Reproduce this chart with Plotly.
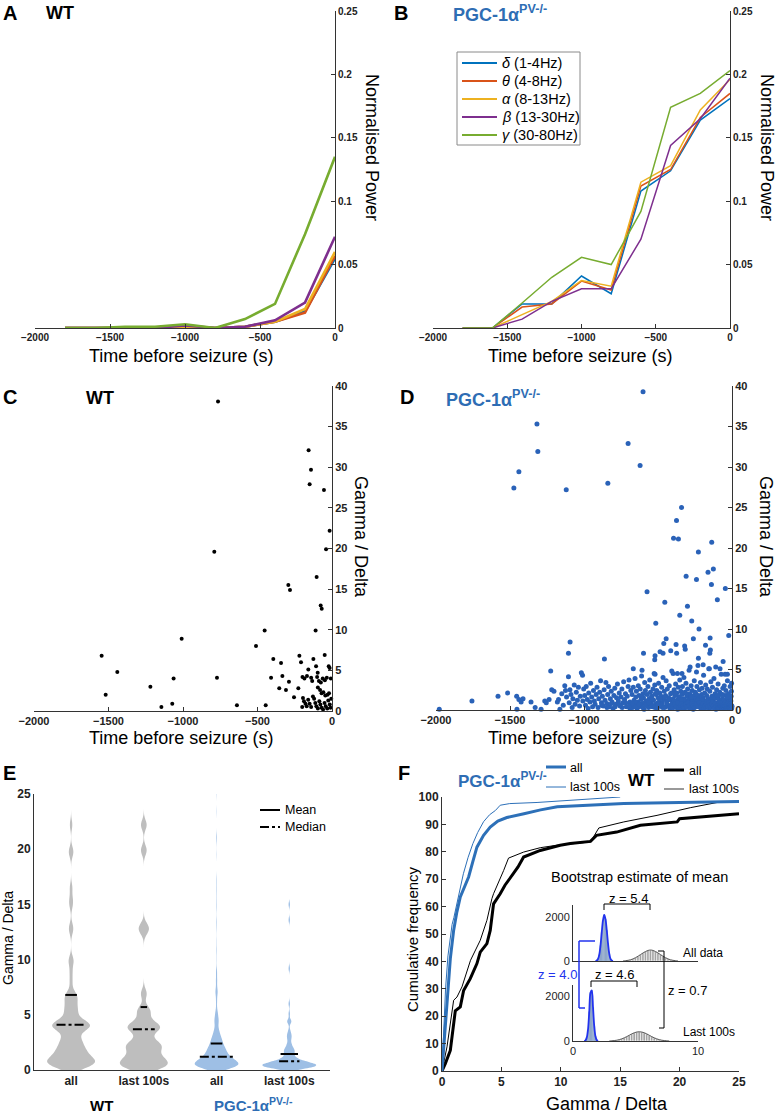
import plotly.graph_objects as go

W, H = 777, 1113
def PX(x): return x / W
def PY(y): return 1 - y / H

FONT = "Liberation Sans, Arial, sans-serif"
BLUE_T = "#2E6DB4"

# ---------------- data: panels A / B (normalised power) ----------------
t_bins = [-1800, -1600, -1400, -1200, -1000, -800, -600, -400, -200, 0]
band_names = ["<i>δ</i> (1-4Hz)", "<i>θ</i> (4-8Hz)", "<i>α</i> (8-13Hz)",
              "<i>β</i> (13-30Hz)", "<i>γ</i> (30-80Hz)"]
band_colors = ["#0072BD", "#D95319", "#EDB120", "#7E2F8E", "#77AC30"]

wt_delta = [0, 0, 0, 0, 0.001, 0, 0.001, 0.005, 0.013, 0.055]
wt_theta = [0, 0, 0, 0, 0.001, 0, 0.001, 0.005, 0.012, 0.057]
wt_alpha = [0, 0, 0, 0, 0.001, 0, 0.001, 0.005, 0.015, 0.060]
wt_beta = [0, 0, 0, 0, 0.002, 0, 0.001, 0.006, 0.020, 0.072]
wt_gamma = [0, 0, 0.001, 0.001, 0.003, 0, 0.007, 0.019, 0.074, 0.135]

ko_delta = [0, 0, 0.019, 0.019, 0.041, 0.027, 0.108, 0.124, 0.164, 0.181]
ko_theta = [0, 0, 0.0165, 0.019, 0.037, 0.030, 0.112, 0.125, 0.166, 0.185]
ko_alpha = [0, 0, 0.0105, 0.021, 0.0375, 0.033, 0.115, 0.128, 0.172, 0.196]
ko_beta = [0, 0, 0.007, 0.021, 0.031, 0.031, 0.070, 0.144, 0.165, 0.197]
ko_gamma = [0, 0, 0.0197, 0.040, 0.0557, 0.050, 0.092, 0.174, 0.185, 0.203]

# ---------------- data: panel C (WT gamma/delta) ----------------
wt_points = [
    (-765, 38.1), (-157, 32.1), (-141, 29.7), (-150, 27.9), (-54, 27.2), (-16, 22.2),
    (-40, 19.9), (-790, 19.6), (-103, 16.5), (-293, 15.5), (-282, 14.9), (-76, 13.0),
    (-69, 12.6), (-452, 9.9), (-110, 9.9), (-1009, 8.9), (-510, 8.0), (-1546, 6.8),
    (-49, 6.9), (-219, 6.8), (-394, 6.4), (-208, 6.0), (-125, 6.4), (-342, 5.9),
    (-22, 5.5), (-16, 5.3), (-1441, 4.8), (-107, 5.5), (-96, 4.7), (-159, 5.1),
    (-1063, 4.0), (-772, 4.1), (-409, 4.1), (-333, 4.3), (-198, 4.2), (-168, 4.3),
    (-185, 4.0), (-140, 4.1), (-133, 3.7), (-100, 4.2), (-88, 3.7), (-75, 3.5),
    (-62, 4.0), (-48, 3.8), (-35, 4.1), (-8, 4.0), (-1219, 3.0), (-354, 2.8),
    (-289, 3.6), (-309, 2.6), (-226, 2.8), (-95, 2.9), (-80, 2.6), (-70, 2.2),
    (-58, 2.3), (-45, 1.9), (-30, 2.0), (-20, 2.2), (-1519, 2.0), (-255, 1.7),
    (-1072, 0.9), (-1145, 0.5), (-638, 0.7), (-445, 0.7), (-195, 1.6), (-188, 1.2),
    (-178, 0.9), (-170, 0.6), (-160, 1.4), (-150, 0.9), (-140, 0.5), (-120, 1.5),
    (-112, 1.0), (-105, 0.6), (-95, 0.3), (-85, 1.2), (-78, 0.8), (-70, 0.4),
    (-60, 0.2), (-50, 1.0), (-42, 0.6), (-32, 0.3), (-25, 1.3), (-15, 0.8),
    (-10, 0.4), (-5, 1.5), (-200, 0.5), (-128, 1.8),
]

# ---------------- data: panel D (PGC-1a PV-/- gamma/delta) ----------------
ko_points_high = [
    (-601, 39.3), (-1318, 35.3), (-1312, 31.9), (-702, 32.9), (-621, 30.2), (-1440, 29.4),
    (-1474, 27.4), (-1120, 27.2), (-839, 28.0), (-341, 25.0), (-375, 23.4), (-395, 21.2),
    (-362, 21.1), (-137, 20.7), (-227, 19.5), (-162, 17.0), (-126, 17.4), (-310, 16.5),
    (-240, 16.1), (-139, 15.5), (-45, 15.0), (-574, 14.6), (-99, 13.6), (-454, 13.3),
    (-301, 12.8), (-353, 11.7), (-272, 11.0), (-515, 10.7), (-223, 10.0), (-22, 9.2),
    (-445, 8.8), (-1094, 8.4), (-461, 8.2), (-378, 8.1), (-148, 8.9), (-261, 8.8),
    (-320, 7.9), (-316, 7.5), (-179, 8.0), (-146, 7.4), (-150, 7.0), (-1105, 7.0),
    (-598, 7.0), (-486, 7.2), (-466, 7.0), (-414, 7.3), (-374, 7.0), (-862, 6.3),
    (-520, 6.7), (-522, 6.2), (-227, 6.4), (-667, 5.1), (-608, 4.9), (-520, 4.4),
    (-398, 4.5), (-369, 4.5), (-338, 4.5), (-153, 5.1), (-81, 5.1), (-47, 4.4),
    (-31, 4.4), (-283, 5.3), (-195, 5.6), (-110, 5.3), (-240, 4.7), (-60, 6.0),
]
ko_points_far = [
    (-1978, 0.1), (-1757, 1.1), (-1581, 1.7), (-1516, 2.1), (-1455, 1.7), (-1440, 1.3),
    (-1425, 1.0), (-1412, 1.4), (-1453, 0.1), (-1358, 1.0), (-1330, 0.3),
    (-1290, 0.1), (-1265, 1.1), (-1255, 0.9), (-1236, 1.3), (-1225, 4.8), (-1218, 2.5),
    (-1203, 2.3), (-1180, 1.0), (-1172, 1.3), (-1163, 0.1), (-1150, 2.0), (-1140, 0.6),
    (-1130, 3.0), (-1125, 2.4), (-1118, 1.6), (-1105, 4.1), (-1100, 0.9), (-1095, 2.5),
    (-1088, 1.9), (-1080, 0.3), (-1075, 1.4), (-1066, 3.1), (-1060, 0.7), (-1052, 2.2),
    (-1045, 1.2), (-1038, 2.8), (-1030, 0.5), (-1025, 1.7), (-1018, 4.6), (-1010, 4.3),
    (-1008, 1.1), (-1002, 2.6),
]
ko_points_mid = [
    (-995, 1.8), (-990, 0.6), (-985, 2.9), (-978, 1.3), (-972, 0.2), (-968, 2.1),
    (-960, 1.0), (-955, 3.3), (-948, 1.6), (-942, 0.4), (-936, 2.4), (-930, 1.1),
    (-925, 0.7), (-918, 1.9), (-912, 2.8), (-905, 0.3), (-900, 1.4), (-894, 2.2),
    (-888, 3.6), (-882, 0.9), (-876, 1.7), (-870, 0.5), (-864, 2.5), (-858, 1.2),
    (-852, 3.4), (-846, 0.8), (-840, 1.9), (-834, 2.9), (-828, 0.4), (-822, 1.4),
    (-816, 2.3), (-810, 1.0), (-804, 0.2), (-798, 1.8), (-792, 2.7), (-786, 0.7),
    (-780, 1.5), (-774, 3.2), (-768, 1.1), (-762, 2.1), (-756, 0.5), (-750, 1.6),
    (-744, 2.6), (-738, 0.9), (-732, 3.5), (-726, 1.3), (-720, 2.0), (-714, 0.4),
    (-708, 1.7), (-702, 2.9), (-696, 3.7), (-690, 1.0), (-684, 2.4), (-678, 0.6),
]
ko_points_near = [
    (-675, 1.9), (-671, 0.3), (-667, 2.8), (-662, 1.2), (-658, 0.7), (-655, 3.9),
    (-650, 1.6), (-646, 2.3), (-641, 0.2), (-637, 1.0), (-633, 3.0), (-628, 1.8),
    (-624, 0.5), (-620, 2.6), (-615, 1.3), (-611, 4.2), (-607, 0.8), (-602, 2.0),
    (-598, 1.5), (-594, 0.1), (-590, 3.4), (-585, 2.4), (-581, 1.1), (-577, 0.6),
    (-573, 1.9), (-568, 2.9), (-564, 0.3), (-560, 1.4), (-556, 3.7), (-551, 2.2),
    (-547, 0.9), (-543, 1.7), (-539, 0.4), (-534, 2.6), (-530, 1.2), (-526, 4.5),
    (-522, 3.1), (-517, 0.7), (-513, 1.9), (-509, 2.4), (-505, 0.2), (-500, 1.5),
    (-496, 3.3), (-492, 1.0), (-488, 2.1), (-483, 0.5), (-479, 1.7), (-475, 2.8),
    (-471, 0.9), (-466, 4.0), (-462, 1.3), (-458, 2.3), (-454, 0.3), (-449, 1.8),
    (-445, 3.6), (-441, 1.1), (-437, 2.6), (-432, 0.6), (-428, 1.5), (-424, 3.0),
    (-420, 0.2), (-415, 2.0), (-411, 1.2), (-407, 4.8), (-403, 0.8),
    (-690, 0.2), (-655, 0.9), (-630, 0.4), (-612, 1.6), (-588, 0.9), (-570, 1.1),
    (-552, 0.6), (-535, 1.3), (-518, 2.0), (-502, 0.9), (-486, 1.4), (-470, 0.3),
    (-455, 1.6), (-438, 0.5), (-422, 1.3), (-408, 2.1),
]
ko_points_last = [
    (-398, 1.4), (-395, 0.3), (-391, 2.5), (-388, 0.9), (-384, 1.8), (-381, 3.2),
    (-377, 0.5), (-374, 2.1), (-370, 1.2), (-367, 0.1), (-363, 2.8), (-360, 1.6),
    (-356, 0.7), (-353, 3.7), (-349, 1.0), (-346, 2.3), (-342, 0.4), (-339, 1.9),
    (-335, 2.9), (-332, 0.8), (-328, 1.4), (-325, 4.0), (-321, 0.2), (-318, 2.2),
    (-314, 1.1), (-311, 3.3), (-307, 0.6), (-304, 1.7), (-300, 2.6), (-297, 0.3),
    (-293, 1.3), (-290, 4.9), (-286, 2.0), (-283, 0.9), (-279, 1.5), (-276, 3.0),
    (-272, 0.5), (-269, 2.4), (-265, 1.2), (-262, 0.1), (-258, 1.8), (-255, 3.6),
    (-251, 0.8), (-248, 2.2), (-244, 1.4), (-241, 0.4), (-237, 2.9), (-234, 1.0),
    (-230, 5.5), (-227, 1.7), (-223, 0.6), (-220, 2.5), (-216, 1.3), (-213, 3.4),
    (-209, 0.2), (-206, 1.9), (-202, 2.7), (-199, 0.9), (-195, 1.5), (-192, 4.3),
    (-188, 0.5), (-185, 2.1), (-181, 1.1), (-178, 3.1), (-174, 0.3), (-171, 1.8),
    (-167, 2.6), (-164, 0.7), (-160, 1.4), (-157, 5.1), (-153, 0.2), (-150, 2.3),
    (-146, 1.0), (-143, 3.5), (-139, 0.6), (-136, 1.7), (-132, 2.8), (-129, 0.4),
    (-125, 1.3), (-122, 3.9), (-118, 0.9), (-115, 2.0), (-111, 1.5), (-108, 0.1),
    (-104, 2.5), (-101, 0.8), (-97, 1.6), (-94, 3.2), (-90, 0.5), (-87, 1.2),
    (-83, 2.2), (-80, 0.3), (-76, 1.9), (-73, 4.4), (-69, 0.7), (-66, 1.4),
    (-62, 2.7), (-59, 0.2), (-55, 1.1), (-52, 3.0), (-48, 0.6), (-45, 1.8),
    (-41, 2.4), (-38, 0.4), (-34, 1.3), (-31, 3.6), (-27, 0.9), (-24, 2.0),
    (-20, 0.2), (-17, 1.5), (-13, 2.9), (-10, 0.7), (-6, 1.7), (-3, 3.3), (-1, 0.4),
    (-390, 1.1), (-372, 0.6), (-355, 1.5), (-337, 0.2), (-320, 1.2), (-302, 0.9),
    (-285, 0.3), (-268, 1.0), (-250, 0.5), (-232, 1.2), (-215, 0.8), (-197, 0.3),
    (-180, 1.0), (-162, 0.5), (-145, 1.2), (-127, 0.8), (-110, 0.3), (-92, 1.0),
    (-75, 0.5), (-57, 1.2), (-40, 0.8), (-22, 0.4), (-8, 1.1), (-380, 2.0),
    (-344, 1.3), (-309, 2.0), (-274, 1.6), (-239, 1.9), (-204, 1.3), (-169, 1.1),
    (-134, 1.0), (-99, 1.8), (-64, 1.9), (-29, 1.6), (-4, 2.3),
]
# overlapping low-ratio points hidden inside the dense band
ko_points_dense = [
    (-880, 0.6), (-845, 0.3), (-815, 0.8), (-790, 0.4), (-765, 0.7), (-742, 0.3),
    (-718, 0.9), (-695, 0.5), (-672, 0.8), (-649, 0.4), (-626, 0.7), (-603, 0.3),
    (-583, 0.6), (-562, 0.9), (-541, 0.5), (-521, 0.3), (-498, 0.7), (-478, 0.6),
    (-459, 0.4), (-440, 0.8), (-419, 0.5), (-401, 0.3), (-386, 0.7), (-376, 0.4),
    (-366, 0.9), (-358, 0.3), (-347, 0.6), (-340, 0.8), (-330, 0.5), (-323, 0.3),
    (-313, 0.7), (-305, 0.4), (-296, 0.9), (-288, 0.6), (-280, 0.2), (-271, 0.8),
    (-263, 0.5), (-254, 0.3), (-246, 0.7), (-238, 0.6), (-229, 0.4), (-221, 0.9),
    (-212, 0.3), (-205, 0.6), (-196, 0.8), (-189, 0.2), (-182, 0.5), (-173, 0.7),
    (-166, 0.4), (-158, 0.9), (-151, 0.6), (-142, 0.3), (-135, 0.7), (-126, 0.5),
    (-119, 0.2), (-112, 0.8), (-106, 0.4), (-98, 0.3), (-96, 0.6), (-93, 0.2),
    (-91, 0.7), (-88, 0.4), (-86, 0.9), (-84, 0.3), (-81, 0.6), (-79, 0.5),
    (-77, 0.2), (-74, 0.8), (-72, 0.4), (-70, 0.3), (-67, 0.6), (-65, 0.2),
    (-63, 0.5), (-61, 0.8), (-58, 0.4), (-56, 0.3), (-53, 0.7), (-51, 0.2),
    (-49, 0.5), (-46, 0.9), (-44, 0.3), (-42, 0.6), (-39, 0.2), (-37, 0.4),
    (-35, 0.7), (-33, 0.3), (-30, 0.5), (-28, 0.2), (-26, 0.8), (-23, 0.4),
    (-21, 0.6), (-19, 0.3), (-16, 0.5), (-14, 0.2), (-12, 0.7), (-9, 0.4),
    (-7, 0.3), (-5, 0.6), (-2, 0.2), (-1, 0.5),
]

# ---------------- data: panel E (summary lines) ----------------
e_positions = [1, 2, 3, 4]
e_labels = ["all", "last 100s", "all", "last 100s"]
e_means = [6.8, 5.7, 2.4, 1.45]
e_medians = [4.1, 3.7, 1.2, 0.8]

# ---------------- data: panel F (cumulative frequency, %) ----------------
ko_last_x = [0, 0.15, 0.3, 0.5, 0.7, 0.85, 1.0, 1.2, 1.5, 1.8, 2.2, 2.6, 3.0, 3.5, 4.0, 4.5, 4.9, 5.7, 8, 11, 13, 15]
ko_last_y = [0, 15, 30, 42, 50, 53.5, 56, 60, 66, 72, 78, 83, 87, 91, 93.5, 95.1, 97, 97.6, 98, 98.8, 99.3, 100]
ko_all_x = [0, 0.2, 0.42, 0.7, 0.98, 1.25, 1.54, 1.9, 2.24, 2.6, 2.94, 3.5, 4.06, 4.7, 5.46, 6.9, 8.3, 9.7, 12, 15.3, 20, 25]
ko_all_y = [0, 12, 27, 41, 51.3, 58, 63.5, 67.5, 70.8, 76.5, 81.7, 86, 89, 91.2, 92.5, 93.9, 95.3, 96.4, 97, 97.6, 98.0, 98.4]
wt_last_x = [0, 0.42, 0.98, 1.26, 1.68, 2.4, 3.22, 3.78, 4.2, 4.34, 5.19, 5.6, 6.87, 8.27, 9.67, 11.35, 12.5, 13.2, 15.3, 18.1, 20.9, 23.4, 25]
wt_last_y = [0, 8.8, 25.8, 27, 30.7, 40.4, 47.7, 55, 62.9, 64.7, 73.2, 77.7, 79.9, 81.5, 82.4, 83, 83.6, 88.7, 90.9, 93.3, 96.1, 98.2, 98.4]
wt_all_x = [0, 0.28, 0.7, 1.12, 1.54, 1.82, 2.38, 2.94, 3.22, 3.78, 4.06, 4.34, 4.9, 5.3, 6.0, 6.4, 6.87, 8.27, 9.95, 10.8, 12.5, 13.0, 14.7, 16.7, 19.8, 20.0, 25]
wt_all_y = [0, 2.7, 7.5, 22, 23.4, 29.4, 33.7, 39.2, 43.4, 46.5, 51.3, 61, 64.7, 67.8, 72, 74.5, 78.1, 80.5, 82.4, 83, 83.8, 86, 87.2, 89.7, 90.9, 92.1, 93.9]

# ---------------- data: inset bootstrap histograms ----------------
boot_all_ko_x = [1.9, 2.0, 2.1, 2.2, 2.3, 2.4, 2.5, 2.6, 2.7, 2.8, 2.9, 3.0, 3.1]
boot_all_ko_n = [20, 90, 280, 700, 1300, 1850, 2100, 1900, 1400, 800, 330, 100, 25]
boot_all_wt_x = [4.2, 4.4, 4.6, 4.8, 5.0, 5.2, 5.4, 5.6, 5.8, 6.0, 6.2, 6.4, 6.6, 6.8, 7.0, 7.2, 7.4, 7.6, 7.8, 8.0, 8.2]
boot_all_wt_n = [15, 30, 55, 95, 150, 215, 290, 365, 430, 480, 500, 480, 430, 365, 290, 215, 150, 95, 55, 30, 15]
boot_last_ko_x = [1.0, 1.1, 1.2, 1.3, 1.4, 1.5, 1.6, 1.7, 1.8, 1.9]
boot_last_ko_n = [30, 150, 500, 1300, 2150, 2250, 1500, 650, 200, 40]
boot_last_wt_x = [3.1, 3.3, 3.5, 3.7, 3.9, 4.1, 4.3, 4.5, 4.7, 4.9, 5.1, 5.3, 5.5, 5.7, 5.9, 6.1, 6.3, 6.5, 6.7, 6.9, 7.1, 7.3, 7.5]
boot_last_wt_n = [10, 20, 35, 60, 95, 140, 195, 255, 315, 365, 400, 410, 400, 365, 315, 255, 195, 140, 95, 60, 35, 20, 10]

# ======================================================================
fig = go.Figure()

wt_power = [wt_delta, wt_theta, wt_alpha, wt_beta, wt_gamma]
ko_power = [ko_delta, ko_theta, ko_alpha, ko_beta, ko_gamma]
for i in range(5):
    fig.add_trace(go.Scatter(x=t_bins, y=wt_power[i], mode="lines", xaxis="x", yaxis="y",
                             line=dict(color=band_colors[i], width=2.6), showlegend=False))
for i in range(5):
    fig.add_trace(go.Scatter(x=t_bins, y=ko_power[i], mode="lines", xaxis="x2", yaxis="y2",
                             name=band_names[i], line=dict(color=band_colors[i], width=1.5),
                             showlegend=False))

c_x = [p[0] for p in wt_points]
c_y = [p[1] for p in wt_points]
fig.add_trace(go.Scatter(x=c_x, y=c_y, mode="markers", xaxis="x3", yaxis="y3", cliponaxis=False,
                         marker=dict(size=4, color="black"), showlegend=False))

ko_all_pts = (ko_points_high + ko_points_far + ko_points_mid + ko_points_near
              + ko_points_last + ko_points_dense)
d_x = [p[0] for p in ko_all_pts]
d_y = [p[1] for p in ko_all_pts]
fig.add_trace(go.Scatter(x=d_x, y=d_y, mode="markers", xaxis="x4", yaxis="y4", cliponaxis=False,
                         marker=dict(size=5, color="#2A62B8"), showlegend=False))

# ---- E violins
wt_last_vals = [y for x, y in wt_points if x > -100]
ko_last_vals = [y for x, y in ko_all_pts if x > -100]
vdata = [c_y, wt_last_vals, d_y, ko_last_vals]
vcolors = ["#BEBEBE", "#BEBEBE", "#9EBFE5", "#9EBFE5"]
vwidths = [0.66, 0.66, 0.6, 0.74]
vbw = [0.45, 0.45, 0.3, 0.22]
for i in range(4):
    fig.add_trace(go.Violin(y=vdata[i], x0=e_positions[i], xaxis="x5", yaxis="y5",
                            width=vwidths[i], bandwidth=vbw[i], points=False,
                            fillcolor=vcolors[i], line=dict(width=0, color=vcolors[i]),
                            box_visible=False, meanline_visible=False, showlegend=False,
                            hoverinfo="skip"))
mean_hw = [0.08, 0.045, 0.08, 0.12]
med_hw = [0.2, 0.15, 0.23, 0.14]
for i in range(4):
    p = e_positions[i]
    fig.add_trace(go.Scatter(x=[p - mean_hw[i], p + mean_hw[i]], y=[e_means[i]] * 2, mode="lines",
                             xaxis="x5", yaxis="y5", line=dict(color="black", width=2),
                             showlegend=False))
    fig.add_trace(go.Scatter(x=[p - med_hw[i], p + med_hw[i]], y=[e_medians[i]] * 2, mode="lines",
                             xaxis="x5", yaxis="y5", line=dict(color="black", width=2, dash="dashdot"),
                             showlegend=False))

# ---- F curves
F_BLUE = "#2D70B8"
fig.add_trace(go.Scatter(x=wt_last_x, y=wt_last_y, mode="lines", xaxis="x6", yaxis="y6",
                         line=dict(color="black", width=1), showlegend=False))
fig.add_trace(go.Scatter(x=wt_all_x, y=wt_all_y, mode="lines", xaxis="x6", yaxis="y6",
                         line=dict(color="black", width=3), showlegend=False))
fig.add_trace(go.Scatter(x=ko_last_x, y=ko_last_y, mode="lines", xaxis="x6", yaxis="y6",
                         line=dict(color=F_BLUE, width=1), showlegend=False))
fig.add_trace(go.Scatter(x=ko_all_x, y=ko_all_y, mode="lines", xaxis="x6", yaxis="y6",
                         line=dict(color=F_BLUE, width=3), showlegend=False))

# ---- inset histograms
def add_hist(xs, ns, w, ax, ay, fill, edge, curve, cw):
    fig.add_trace(go.Bar(x=xs, y=ns, width=w, xaxis=ax, yaxis=ay, showlegend=False,
                         marker=dict(color=fill, line=dict(color=edge, width=0.6)), hoverinfo="skip"))
    cx = [xs[0] - w] + xs + [xs[-1] + w]
    cy = [0] + ns + [0]
    fig.add_trace(go.Scatter(x=cx, y=cy, mode="lines", xaxis=ax, yaxis=ay, showlegend=False,
                             line=dict(color=curve, width=cw, shape="spline"), hoverinfo="skip"))

add_hist(boot_all_ko_x, boot_all_ko_n, 0.1, "x7", "y7", "#7090B8", "#A9BCD6", "#2233EE", 1.8)
add_hist(boot_all_wt_x, boot_all_wt_n, 0.2, "x7", "y7", "#A3A3A3", "white", "#333333", 0.8)
add_hist(boot_last_ko_x, boot_last_ko_n, 0.1, "x8", "y8", "#7090B8", "#A9BCD6", "#2233EE", 1.8)
add_hist(boot_last_wt_x, boot_last_wt_n, 0.2, "x8", "y8", "#A3A3A3", "white", "#333333", 0.8)

# ======================================================================
AX_COL = "#333333"
def tf(size, bold=True):
    return dict(family=FONT, size=size, color="#222222", weight="bold" if bold else "normal")

def xax(x0, x1, rng, anchor, **kw):
    d = dict(domain=[PX(x0), PX(x1)], range=rng, anchor=anchor, showgrid=False, zeroline=False,
             showline=True, linecolor=AX_COL, linewidth=1, tickcolor=AX_COL, automargin=False,
             fixedrange=True)
    d.update(kw)
    return d

def yax(y0, y1, rng, anchor, **kw):
    d = dict(domain=[PY(y1), PY(y0)], range=rng, anchor=anchor, showgrid=False, zeroline=False,
             showline=True, linecolor=AX_COL, linewidth=1, tickcolor=AX_COL, automargin=False,
             fixedrange=True)
    d.update(kw)
    return d

t_ticks = [-2000, -1500, -1000, -500, 0]
p_ticks = [0, 0.05, 0.1, 0.15, 0.2, 0.25]
p_text = ["0", "0.05", "0.1", "0.15", "0.2", "0.25"]
g_ticks = [0, 5, 10, 15, 20, 25, 30, 35, 40]

layout = dict(
    width=W, height=H, margin=dict(l=0, r=0, t=0, b=0, pad=0, autoexpand=False), autosize=False,
    paper_bgcolor="white", plot_bgcolor="rgba(0,0,0,0)",
    font=dict(family=FONT, color="black"), showlegend=False, hovermode=False,
    violinmode="overlay", barmode="overlay",
    xaxis=xax(35, 335, [-2000, 0], "y", tickvals=t_ticks, ticks="inside", ticklen=4, tickfont=tf(10)),
    yaxis=yax(11, 328, [0, 0.25], "x", side="right", tickvals=p_ticks, ticktext=p_text,
              ticks="inside", ticklen=4, tickfont=tf(10)),
    xaxis2=xax(433, 730, [-2000, 0], "y2", tickvals=t_ticks, ticks="inside", ticklen=4, tickfont=tf(10)),
    yaxis2=yax(11, 328, [0, 0.25], "x2", side="right", tickvals=p_ticks, ticktext=p_text,
               ticks="inside", ticklen=4, tickfont=tf(10)),
    xaxis3=xax(34, 332, [-2000, 0], "y3", tickvals=t_ticks, ticks="inside", ticklen=4, tickfont=tf(11)),
    yaxis3=yax(386, 711, [0, 40], "x3", side="right", tickvals=g_ticks, ticks="inside", ticklen=4,
               tickfont=tf(11)),
    xaxis4=xax(436, 732, [-2000, 0], "y4", tickvals=t_ticks, ticks="inside", ticklen=4, tickfont=tf(11)),
    yaxis4=yax(386, 710, [0, 40], "x4", side="right", tickvals=g_ticks, ticks="inside", ticklen=4,
               tickfont=tf(11)),
    xaxis5=xax(34, 330, [0.49, 4.56], "y5", tickvals=e_positions, ticktext=e_labels, ticks="",
               tickfont=tf(12)),
    yaxis5=yax(794, 1070, [0, 25], "x5", tickvals=[0, 5, 10, 15, 20, 25], ticks="", tickfont=tf(12)),
    xaxis6=xax(442, 739, [0, 25], "y6", tickvals=[0, 5, 10, 15, 20, 25], ticks="inside", ticklen=4,
               tickfont=tf(12)),
    yaxis6=yax(797, 1071, [0, 100], "x6", tickvals=list(range(0, 101, 10)), ticks="inside", ticklen=4,
               tickfont=tf(12)),
    xaxis7=xax(573, 698, [0, 10], "y7", showticklabels=False, ticks=""),
    yaxis7=yax(905, 961, [0, 2545], "x7", tickvals=[0, 2000], ticks="", tickfont=tf(11, False)),
    xaxis8=xax(573, 698, [0, 10], "y8", tickvals=[0, 10], ticks="", tickfont=tf(11, False)),
    yaxis8=yax(985, 1041, [0, 2490], "x8", tickvals=[0, 2000], ticks="", tickfont=tf(11, False)),
)

# ---- annotations
anns = []
def ann(x, y, text, size=13, bold=False, color="black", xanchor="center", angle=0):
    anns.append(dict(x=PX(x), y=PY(y), xref="paper", yref="paper", text=text, showarrow=False,
                     font=dict(family=FONT, size=size, color=color,
                               weight="bold" if bold else "normal"),
                     xanchor=xanchor, yanchor="middle", textangle=angle))

PGC = "PGC-1α<sup>PV-/-</sup>"
# panel letters
ann(10, 13, "A", 20, True)
ann(401, 13, "B", 20, True)
ann(10, 397, "C", 20, True)
ann(407, 397, "D", 20, True)
ann(9, 773, "E", 20, True)
ann(404, 773, "F", 20, True)
# titles
ann(60, 13, "WT", 18, True)
ann(451, 14, PGC, 18, True, BLUE_T, "left")
ann(100, 398, "WT", 18, True)
ann(444, 398, PGC, 18, True, BLUE_T, "left")
# axis titles
ann(181, 356, "Time before seizure (s)", 18)
ann(580, 356, "Time before seizure (s)", 18)
ann(181, 738, "Time before seizure (s)", 18)
ann(580, 738, "Time before seizure (s)", 18)
ann(372, 147, "Normalised Power", 18, angle=90)
ann(767, 147, "Normalised Power", 18, angle=90)
ann(361, 537, "Gamma / Delta", 18, angle=90)
ann(766, 537, "Gamma / Delta", 18, angle=90)
ann(8, 938, "Gamma / Delta", 14, angle=-90)
ann(412, 939, "Cumulative frequency", 15, angle=-90)
ann(607, 1104, "Gamma / Delta", 18)
# B legend (manual, boxed)
leg_y = [63, 81, 99, 117, 135]
for i in range(5):
    ann(500, leg_y[i], band_names[i], 14.5, xanchor="left")
# E labels
ann(101, 1105, "WT", 15, True)
ann(212, 1104, PGC, 15, True, BLUE_T, "left")
ann(283, 810, "Mean", 12.5, xanchor="left")
ann(283, 827, "Median", 12.5, xanchor="left")
# F legend texts
ann(456, 780, PGC, 17, True, BLUE_T, "left")
ann(568, 768, "all", 12.5, xanchor="left")
ann(568, 787, "last 100s", 12.5, xanchor="left")
ann(641, 780, "WT", 17, True)
ann(687, 771, "all", 12.5, xanchor="left")
ann(687, 789, "last 100s", 12.5, xanchor="left")
# inset texts
ann(639, 877, "Bootstrap estimate of mean", 14.5)
ann(628, 898, "z = 5.4", 13)
ann(681, 953, "All data", 12, xanchor="left")
ann(614, 975, "z = 4.6", 13)
ann(666, 990, "z = 0.7", 13, xanchor="left")
ann(557, 974, "z = 4.0", 13, color="#2233EE")
ann(681, 1032, "Last 100s", 12, xanchor="left")
layout["annotations"] = anns

# ---- decorative shapes (legend samples and brackets)
shapes = []
def seg(x0, y0, x1, y1, color="black", width=1, dash="solid"):
    shapes.append(dict(type="line", xref="paper", yref="paper", x0=PX(x0), y0=PY(y0),
                       x1=PX(x1), y1=PY(y1), line=dict(color=color, width=width, dash=dash)))

shapes.append(dict(type="rect", xref="paper", yref="paper", x0=PX(457), y0=PY(145),
                   x1=PX(580), y1=PY(52), line=dict(color="#8A8A8A", width=1),
                   fillcolor="white", layer="above"))
for i in range(5):
    seg(462, leg_y[i], 497, leg_y[i], band_colors[i], 2)

seg(260, 810, 280, 810, width=2)
seg(260, 827, 280, 827, width=2, dash="dashdot")
seg(546, 767, 566, 767, F_BLUE, 3)
seg(546, 787, 566, 787, F_BLUE, 1)
seg(664, 770, 684, 770, "black", 3)
seg(664, 789, 684, 789, "#777777", 1.5)
# z = 5.4 bracket
seg(604, 904, 650, 904)
seg(604, 904, 604, 910)
seg(650, 904, 650, 910)
# z = 4.6 bracket
seg(591, 981, 637, 981)
seg(591, 981, 591, 987)
seg(637, 981, 637, 987)
# z = 0.7 bracket
seg(664, 951, 664, 1028)
seg(658, 951, 664, 951)
seg(659, 1028, 664, 1028)
# z = 4.0 bracket (blue)
seg(579, 941, 579, 1008, "#2233EE", 1.5)
seg(579, 941, 595, 941, "#2233EE", 1.5)
seg(579, 1008, 585, 1008, "#2233EE", 1.5)
layout["shapes"] = shapes

fig.update_layout(**layout)
fig.write_html("out.html", config={"displayModeBar": False, "staticPlot": True},
               post_script="document.body.style.margin='0px';")
